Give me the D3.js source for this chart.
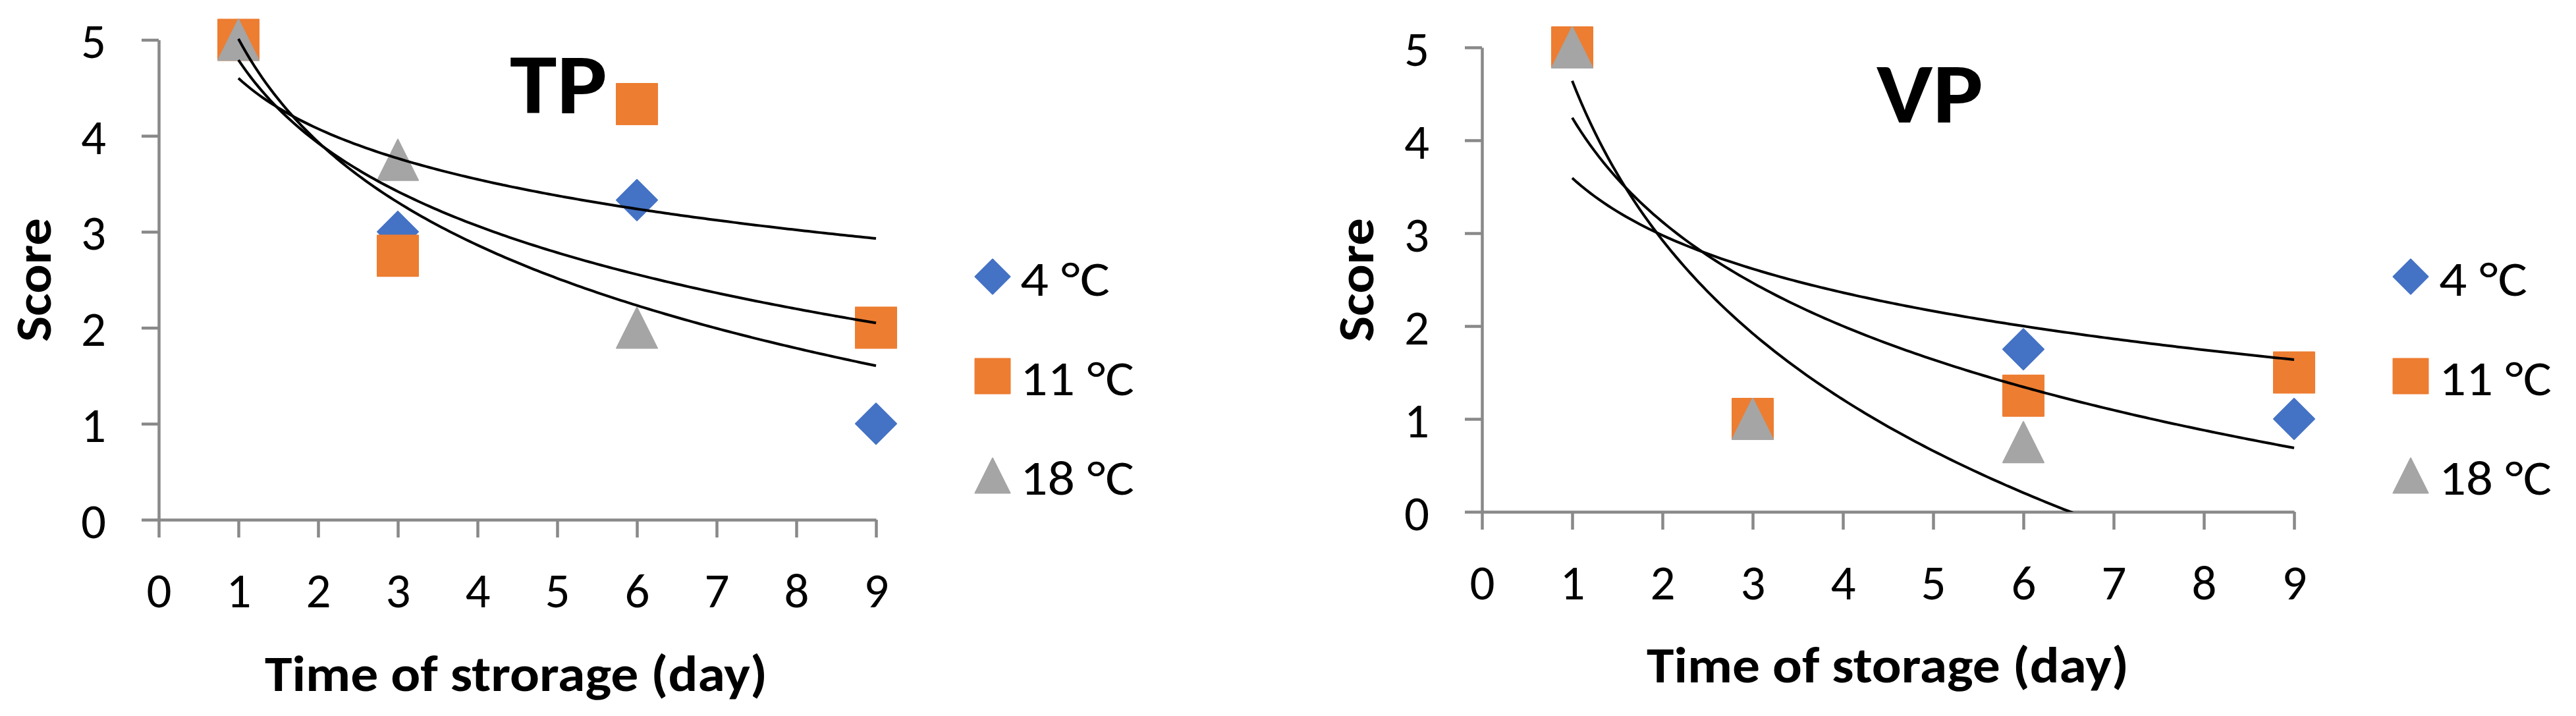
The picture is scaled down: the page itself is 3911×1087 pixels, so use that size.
<!DOCTYPE html>
<html><head><meta charset="utf-8">
<script src="https://cdn.jsdelivr.net/npm/d3@7"></script>
<style>html,body{margin:0;padding:0;background:#fff;} svg{display:block;}</style>
</head><body>
<svg id="chart" width="3911" height="1087"></svg>
<script>
// ---------- data ----------
const days = [1, 3, 6, 9];
const seriesNames = ["4 °C", "11 °C", "18 °C"];
const seriesColors = ["#4472C4", "#ED7D31", "#A5A5A5"];
const seriesShapes = ["diamond", "square", "triangle"];
const xTickValues = [0, 1, 2, 3, 4, 5, 6, 7, 8, 9];
const yTickValues = [0, 1, 2, 3, 4, 5];

const tp4 = [5, 3, 3.33, 1];
const tp11 = [5, 2.75, 4.33, 2];
const tp18 = [5, 3.75, 2, null];
const vp4 = [5, 1, 1.75, 1];
const vp11 = [5, 1, 1.25, 1.5];
const vp18 = [5, 1, 0.75, null];

// logarithmic trendlines: score = intercept + slope * ln(day)
const tpTrendIntercept = [5.01, 4.79, 4.60];
const tpTrendSlope = [-1.55, -1.247, -0.76];
const vpTrendIntercept = [4.64, 4.243, 3.594];
const vpTrendSlope = [-2.475, -1.618, -0.89];

// ---------- layout ----------
const FONT = "Carlito, Lato, 'DejaVu Sans', sans-serif";
const panels = [
  { title: "TP", xTitle: "Time of strorage (day)", series: [tp4, tp11, tp18],
    tb: tpTrendIntercept, tm: tpTrendSlope,
    left: 241, right: 1330, bottom: 789, top: 60.5,
    titleX: 848, titleY: 172, titleW: 148,
    xTitleX: 783.5, xTitleY: 1049, xTitleW: 763,
    scoreX: 77, scoreY: 425,
    legX: 1507, legTextX: 1549, legW: [136, 173, 173] },
  { title: "VP", xTitle: "Time of storage (day)", series: [vp4, vp11, vp18],
    tb: vpTrendIntercept, tm: vpTrendSlope,
    left: 2250, right: 3483, bottom: 777, top: 72,
    titleX: 2930, titleY: 185.5, titleW: 162,
    xTitleX: 2866, xTitleY: 1035.5, xTitleW: 732,
    scoreX: 2085, scoreY: 425,
    legX: 3660, legTextX: 3703, legW: [134, 171, 171] }
];
const legendRows = [420, 571, 722];

const svg = d3.select("#chart");
svg.append("rect").attr("width", 3911).attr("height", 1087).attr("fill", "#fff");

function shapePath(shape, s) {
  if (shape === "diamond") return `M0,${-s}L${s},0L0,${s}L${-s},0Z`;
  if (shape === "square") return `M${-s},${-s}H${s}V${s}H${-s}Z`;
  return `M0,${-s}L${s},${s}H${-s}Z`;
}

function fit(sel, w) {
  if (w) sel.attr("textLength", w).attr("lengthAdjust", "spacingAndGlyphs");
  return sel;
}

panels.forEach((p, pi) => {
  const g = svg.append("g");
  const x = d3.scaleLinear().domain([0, 9]).range([p.left, p.right]);
  const y = d3.scaleLinear().domain([0, 5]).range([p.bottom, p.top]);

  // axes
  const ax = g.append("g").attr("transform", `translate(0,${p.bottom})`)
    .call(d3.axisBottom(x).tickValues(xTickValues).tickSize(27).tickSizeOuter(0).tickFormat(d3.format("d")));
  ax.selectAll("text").attr("y", 106).attr("dy", "0.36em");
  const ay = g.append("g").attr("transform", `translate(${p.left},0)`)
    .call(d3.axisLeft(y).tickValues(yTickValues).tickSize(26).tickSizeOuter(0).tickFormat(d3.format("d")));
  ay.selectAll("text").attr("x", -80).attr("dy", "0.36em");
  [ax, ay].forEach(a => {
    a.attr("font-family", FONT).attr("font-size", 75);
    a.selectAll("path.domain, line").attr("stroke", "#898989").attr("stroke-width", 4.5);
    a.selectAll("text").attr("fill", "#000");
  });

  // markers
  p.series.forEach((vals, si) => {
    g.append("g").selectAll("path")
      .data(days.map((d, i) => ({ d, v: vals[i] })).filter(o => o.v !== null))
      .join("path")
      .attr("transform", o => `translate(${x(o.d)},${y(o.v)})`)
      .attr("d", shapePath(seriesShapes[si], 31))
      .attr("fill", seriesColors[si])
      .attr("stroke", seriesColors[si]).attr("stroke-width", 2).attr("stroke-linejoin", "round");
  });

  // trendlines
  const clipId = "clip" + pi;
  svg.append("clipPath").attr("id", clipId).append("rect")
    .attr("x", p.left).attr("y", 0).attr("width", p.right - p.left + 5).attr("height", p.bottom);
  const line = d3.line().x(o => x(o[0])).y(o => y(o[1]));
  const samples = d3.range(1, 9.0001, 0.05);
  p.tb.forEach((b, k) => {
    g.append("path")
      .attr("clip-path", `url(#${clipId})`)
      .attr("d", line(samples.map(t => [t, b + p.tm[k] * Math.log(t)])))
      .attr("fill", "none").attr("stroke", "#000").attr("stroke-width", 4);
  });

  // titles
  fit(g.append("text").attr("x", p.titleX).attr("y", p.titleY)
    .attr("text-anchor", "middle").attr("font-family", FONT).attr("font-weight", "bold")
    .attr("font-size", 130).text(p.title), p.titleW);
  fit(g.append("text").attr("x", p.xTitleX).attr("y", p.xTitleY)
    .attr("text-anchor", "middle").attr("font-family", FONT).attr("font-weight", "bold")
    .attr("font-size", 76).text(p.xTitle), p.xTitleW);
  fit(g.append("text").attr("transform", `translate(${p.scoreX},${p.scoreY}) rotate(-90)`)
    .attr("text-anchor", "middle").attr("font-family", FONT).attr("font-weight", "bold")
    .attr("font-size", 77).text("Score"), 188);

  // legend
  seriesNames.forEach((name, si) => {
    const ly = legendRows[si];
    g.append("path").attr("transform", `translate(${p.legX},${ly})`)
      .attr("d", shapePath(seriesShapes[si], 26.5))
      .attr("fill", seriesColors[si])
      .attr("stroke", seriesColors[si]).attr("stroke-width", 2).attr("stroke-linejoin", "round");
    fit(g.append("text").attr("x", p.legTextX).attr("y", ly + 2).attr("dy", "0.36em")
      .attr("font-family", FONT).attr("font-size", 75).attr("fill", "#000").text(name), p.legW[si]);
  });
});
</script>
</body></html>
